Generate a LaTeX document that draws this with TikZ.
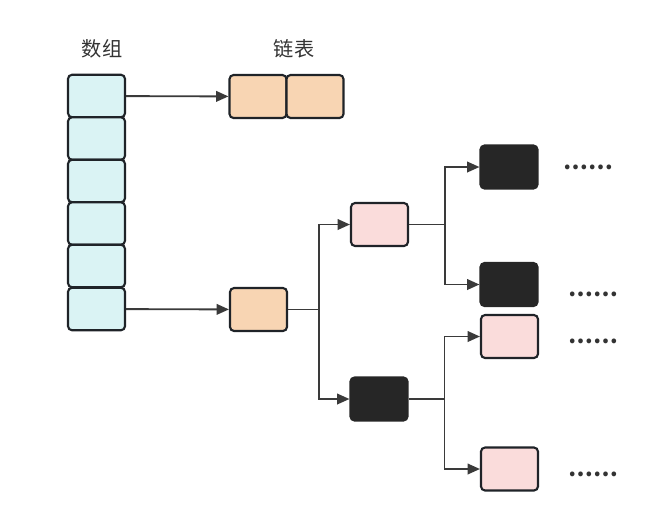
\documentclass[tikz,border=0pt]{standalone}
\usepackage{fontspec}
\newfontfamily\cjk{Noto Sans CJK SC}
\usetikzlibrary{arrows.meta}

\definecolor{arrcyan}{HTML}{DAF3F4}
\definecolor{lstorange}{HTML}{F8D5B3}
\definecolor{treepink}{HTML}{FADCDB}
\definecolor{treeblack}{HTML}{262626}
\definecolor{edgedark}{HTML}{1F2328}
\definecolor{linegray}{HTML}{3A3A3A}
\definecolor{txtgray}{HTML}{333333}

\tikzset{
  box/.style={draw=edgedark, line width=1.2pt, rounded corners=2.3pt,
    minimum width=1.14cm, minimum height=0.86cm, inner sep=0pt},
  cell/.style={box, fill=arrcyan, minimum height=0.85cm},
  lnode/.style={box, fill=lstorange},
  pnode/.style={box, fill=treepink},
  bnode/.style={box, fill=treeblack, draw=treeblack},
  arr/.style={draw=linegray, line width=1.05pt, -{Triangle[length=7pt,width=6pt]}},
  ln/.style={draw=linegray, line width=1.05pt},
  title/.style={font=\cjk\fontsize{11.5pt}{12pt}\selectfont, text=txtgray},
  more/.style={font=\cjk\bfseries\fontsize{12.5pt}{13pt}\selectfont, text=txtgray}
}

\begin{document}
\begin{tikzpicture}[x=0.02cm,y=-0.02cm]
  \useasboundingbox (0,0) rectangle (659,505);
  %\draw[help lines,step=50] (0,0) grid (659,505);

  %titles
  \node[title] (tarr) at (102,49) {数组};
  \node[title] (tlst) at (294,49) {链表};

  %array
  \foreach \i/\y in {1/96,2/138.5,3/181,4/223.5,5/266,6/309}
    \node[cell] (a\i) at (96.5,\y) {};

  %linked list
  \node[lnode] (l1) at (258,96.5) {};
  \node[lnode] (l2) at (315,96.5) {};
  \draw[arr] (a1) -- (l1);

  %tree
  \node[lnode] (root) at (258.5,309.5) {};
  \draw[arr] (a6) -- (root);

  \node[pnode] (p1) at (379.5,224.5) {};
  \node[bnode] (b1) at (379,399) {};
  \draw[ln] (root.east) -- ++(31,0) coordinate (j1);
  \draw[arr] (j1) |- (p1);
  \draw[arr] (j1) |- (b1);

  \node[bnode] (b2) at (509,167) {};
  \node[bnode] (b3) at (509,284.5) {};
  \draw[ln] (p1.east) -- ++(36,0) coordinate (j2);
  \draw[arr] (j2) |- (b2);
  \draw[arr] (j2) |- (b3);

  \node[pnode] (p2) at (509.5,336.5) {};
  \node[pnode] (p3) at (509.5,469) {};
  \draw[ln] (b1.east) -- ++(36,0) coordinate (j3);
  \draw[arr] (j3) |- (p2);
  \draw[arr] (j3) |- (p3);

  %more nodes
  \node[more] (m1) at (588,167) {……};
  \node[more] (m2) at (593,294) {……};
  \node[more] (m3) at (593,341) {……};
  \node[more] (m4) at (593,474) {……};
\end{tikzpicture}
\end{document}
